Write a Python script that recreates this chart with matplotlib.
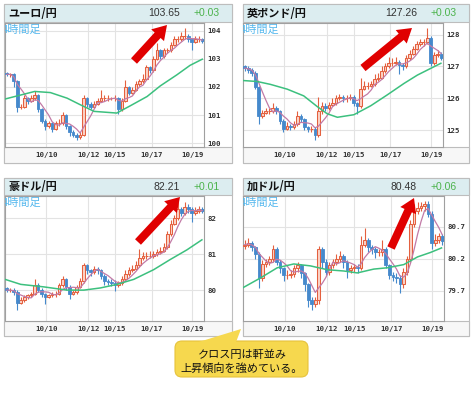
import numpy as np
import pandas as pd
import matplotlib
matplotlib.use('Agg')
import matplotlib.pyplot as plt
from matplotlib.patches import Rectangle, FancyBboxPatch, Polygon

plt.rcParams['font.family'] = ['Noto Sans CJK JP', 'DejaVu Sans']

W, H = 475, 394

titles = ['ユーロ/円', '英ポンド/円', '豪ドル/円', '加ドル/円']
prices = ['103.65', '127.26', '82.21', '80.48']
changes = ['+0.03', '+0.03', '+0.01', '+0.06']
xtick_pos = [11.3, 23.3, 31.0, 41.5, 53.2]
xtick_labels = ['10/10', '10/12', '10/15', '10/17', '10/19']

# 4h candles, open = previous close
eur_open0 = 102.5
eur_close = [102.45, 102.45, 102.2, 101.3, 101.3, 101.6, 101.5, 101.6, 101.7, 101.2,
             100.8, 100.6, 100.7, 100.5, 100.7, 100.7, 101.0, 100.6, 100.4, 100.3,
             100.2, 100.3, 101.6, 101.4, 101.3, 101.4, 101.5, 101.6, 101.6, 101.6,
             101.6, 101.6, 101.2, 101.5, 102.0, 101.8, 101.9, 102.1, 102.2, 102.3,
             102.7, 102.6, 103.0, 103.3, 103.1, 103.3, 103.3, 103.5, 103.7, 103.7,
             103.8, 103.8, 103.7, 103.6, 103.7, 103.7, 103.65]
eur_high = [102.55, 102.5, 102.5, 102.25, 101.4, 101.7, 101.65, 101.7, 101.85, 101.75,
            101.25, 100.85, 100.8, 100.75, 100.8, 100.85, 101.1, 101.05, 100.65, 100.45,
            100.35, 100.4, 101.7, 101.65, 101.45, 101.5, 101.6, 101.9, 101.7, 101.7,
            101.65, 101.7, 101.65, 101.6, 102.25, 102.05, 102.0, 102.2, 102.3, 102.45,
            102.8, 102.75, 103.1, 103.55, 103.35, 103.4, 103.4, 103.6, 103.8, 103.8,
            103.95, 104.1, 103.9, 103.75, 103.8, 103.8, 103.75]
eur_low = [102.4, 102.35, 102.0, 101.1, 101.2, 101.25, 101.4, 101.45, 101.55, 101.1,
           100.7, 100.45, 100.55, 100.4, 100.45, 100.6, 100.65, 100.5, 100.25, 100.2,
           100.1, 100.15, 100.25, 101.3, 101.2, 101.25, 101.35, 101.45, 101.5, 101.5,
           101.55, 101.5, 101.05, 101.15, 101.45, 101.7, 101.75, 101.85, 102.05, 102.15,
           102.25, 102.5, 102.55, 102.95, 103.0, 103.05, 103.2, 103.25, 103.45, 103.6,
           103.65, 103.7, 103.6, 103.3, 103.55, 103.6, 103.55]
eur_ma_x = [-0.5, 8, 12.5, 17.3, 21, 25, 31.5, 35.4, 40.2, 44, 48.7, 52.5, 56]
eur_ma_y = [101.57, 101.84, 101.8, 101.6, 101.37, 101.13, 101.07, 101.33, 101.66, 102.04,
            102.43, 102.77, 102.99]

gbp_open0 = 127.0
gbp_close = [126.95, 126.9, 126.8, 126.35, 125.45, 125.55, 125.6, 125.6, 125.7, 125.6,
             125.3, 125.05, 125.15, 125.1, 125.2, 125.45, 125.35, 125.1, 125.05, 125.05,
             124.85, 125.6, 125.75, 125.7, 125.8, 125.85, 126.0, 126.05, 126.0, 126.0,
             126.05, 125.85, 125.75, 126.3, 126.4, 126.4, 126.45, 126.6, 126.65, 126.85,
             127.0, 127.1, 127.1, 127.15, 127.05, 127.0, 127.25, 127.4, 127.55, 127.7,
             127.75, 127.75, 127.9, 127.1, 127.35, 127.4, 127.26]
gbp_high = [127.05, 127.0, 126.95, 126.85, 126.4, 125.65, 125.7, 125.7, 125.85, 125.75,
            125.65, 125.35, 125.25, 125.2, 125.3, 125.6, 125.5, 125.4, 125.15, 125.15,
            125.1, 126.05, 125.9, 125.85, 125.9, 126.0, 126.1, 126.15, 126.1, 126.1,
            126.15, 126.1, 125.9, 126.65, 126.55, 126.5, 126.55, 126.75, 126.8, 127.0,
            127.1, 127.3, 127.25, 127.3, 127.2, 127.1, 127.35, 127.5, 127.65, 127.8,
            127.85, 127.85, 128.2, 127.95, 127.45, 127.5, 127.45]
gbp_low = [126.85, 126.8, 126.7, 126.3, 125.2, 125.4, 125.5, 125.5, 125.55, 125.5,
           125.2, 124.95, 125.0, 125.0, 125.05, 125.15, 125.25, 125.0, 124.95, 124.95,
           124.7, 124.8, 125.5, 125.6, 125.65, 125.75, 125.8, 125.95, 125.9, 125.9,
           125.95, 125.75, 125.5, 125.7, 126.25, 126.3, 126.35, 126.4, 126.55, 126.6,
           126.8, 126.95, 127.0, 127.05, 126.75, 126.9, 126.95, 127.2, 127.35, 127.5,
           127.65, 127.65, 127.7, 127.0, 127.05, 127.3, 127.2]
gbp_ma_x = [-0.5, 3.5, 7.3, 12.1, 16.8, 20.6, 23.5, 26.4, 31.1, 35.9, 40.6, 45.4, 49.2, 53, 55.9]
gbp_ma_y = [126.56, 126.53, 126.44, 126.29, 126.08, 125.75, 125.52, 125.41, 125.49, 125.77,
            126.11, 126.47, 126.73, 126.94, 127.1]

aud_open0 = 80.05
aud_close = [80.0, 80.0, 79.95, 79.65, 79.72, 79.8, 79.85, 79.9, 80.15, 80.0,
             79.88, 79.82, 79.85, 79.88, 79.9, 80.15, 80.3, 80.1, 79.9, 79.95,
             80.1, 80.25, 80.7, 80.55, 80.5, 80.6, 80.55, 80.4, 80.25, 80.22,
             80.2, 80.15, 80.2, 80.3, 80.45, 80.55, 80.6, 80.7, 80.9, 80.95,
             80.95, 80.95, 81.0, 81.05, 81.1, 81.2, 81.55, 81.85, 82.0, 82.25,
             82.15, 82.3, 82.25, 82.15, 82.2, 82.25, 82.21]
aud_high = [80.1, 80.05, 80.05, 80.0, 79.8, 79.85, 79.9, 79.95, 80.3, 80.2,
            80.05, 79.92, 79.9, 79.95, 79.98, 80.2, 80.4, 80.35, 80.15, 80.0,
            80.15, 80.35, 80.75, 80.72, 80.6, 80.68, 80.65, 80.6, 80.45, 80.3,
            80.3, 80.28, 80.25, 80.38, 80.55, 80.65, 80.7, 80.8, 81.15, 81.05,
            81.05, 81.1, 81.1, 81.15, 81.2, 81.3, 81.65, 81.95, 82.1, 82.5,
            82.3, 82.45, 82.4, 82.3, 82.3, 82.35, 82.3]
aud_low = [79.95, 79.95, 79.85, 79.45, 79.6, 79.68, 79.75, 79.8, 79.85, 79.95,
           79.8, 79.6, 79.78, 79.8, 79.82, 79.85, 80.1, 80.0, 79.75, 79.85,
           79.9, 80.05, 80.2, 80.45, 80.4, 80.45, 80.45, 80.3, 80.15, 80.15,
           80.12, 79.98, 80.1, 80.15, 80.25, 80.4, 80.5, 80.55, 80.65, 80.85,
           80.88, 80.9, 80.9, 80.95, 81.0, 81.05, 81.15, 81.5, 81.8, 81.95,
           82.05, 82.1, 82.15, 81.9, 82.1, 82.15, 82.15]
aud_ma_x = [-0.5, 4, 10.6, 17.3, 22.1, 26.8, 31.6, 36.4, 42.1, 46.8, 51.6, 55.9]
aud_ma_y = [80.3, 80.16, 80.09, 80.0, 80.0, 80.06, 80.16, 80.3, 80.57, 80.85, 81.12, 81.4]

cad_open0 = 80.4
cad_close = [80.42, 80.45, 80.38, 80.28, 79.9, 80.12, 80.15, 80.2, 80.35, 80.15,
             80.05, 79.95, 79.95, 79.97, 80.05, 80.1, 79.98, 79.8, 79.55, 79.5,
             79.55, 80.35, 80.15, 80.0, 80.1, 80.15, 80.2, 80.25, 80.15, 80.02,
             80.05, 80.08, 80.05, 80.42, 80.5, 80.38, 80.35, 80.3, 80.3, 80.35,
             80.1, 79.95, 79.92, 79.9, 79.8, 80.0, 80.2, 80.75, 80.95, 81.0,
             81.02, 81.05, 80.9, 80.45, 80.5, 80.55, 80.48]
cad_high = [80.5, 80.52, 80.48, 80.4, 80.3, 80.18, 80.2, 80.25, 80.42, 80.38,
            80.18, 80.08, 80.02, 80.02, 80.1, 80.15, 80.12, 80.0, 79.82, 79.6,
            79.6, 80.4, 80.38, 80.2, 80.15, 80.2, 80.28, 80.32, 80.28, 80.18,
            80.1, 80.12, 80.12, 80.55, 80.68, 80.52, 80.42, 80.38, 80.36, 80.5,
            80.38, 80.12, 80.0, 79.98, 79.95, 80.05, 80.25, 80.8, 81.05, 81.08,
            81.08, 81.1, 81.1, 80.95, 80.58, 80.6, 80.58]
cad_low = [80.35, 80.38, 80.32, 80.2, 79.75, 79.85, 80.08, 80.1, 80.15, 80.1,
           79.98, 79.85, 79.88, 79.9, 79.92, 80.0, 79.9, 79.7, 79.45, 79.4,
           79.45, 79.5, 80.05, 79.95, 79.95, 80.05, 80.1, 80.15, 80.05, 79.9,
           79.98, 80.0, 79.98, 80.02, 80.38, 80.3, 80.28, 80.22, 80.24, 80.25,
           80.05, 79.88, 79.85, 79.82, 79.67, 79.75, 79.95, 80.15, 80.7, 80.9,
           80.95, 80.95, 80.85, 80.35, 80.4, 80.45, 80.42]
cad_ma_x = [-0.5, 4.4, 9.2, 13.9, 18.6, 23.4, 28.1, 31.9, 36.6, 40.4, 45.1, 49, 52.7, 55.8]
cad_ma_y = [79.75, 79.9, 80.06, 80.12, 80.09, 80.03, 80.01, 79.98, 80.04, 80.06, 80.11,
            80.23, 80.3, 80.37]

eur_yticks = [100, 101, 102, 103, 104]
gbp_yticks = [125, 126, 127, 128]
aud_yticks = [80, 81, 82]
cad_yticks = [79.7, 80.2, 80.7]
ytick_labels = [['100', '101', '102', '103', '104'], ['125', '126', '127', '128'],
                ['80', '81', '82'], ['79.7', '80.2', '80.7']]

series = [
    (eur_open0, eur_close, eur_high, eur_low, eur_ma_x, eur_ma_y, eur_yticks, (99.86, 104.28)),
    (gbp_open0, gbp_close, gbp_high, gbp_low, gbp_ma_x, gbp_ma_y, gbp_yticks, (124.48, 128.36)),
    (aud_open0, aud_close, aud_high, aud_low, aud_ma_x, aud_ma_y, aud_yticks, (79.14, 82.62)),
    (cad_open0, cad_close, cad_high, cad_low, cad_ma_x, cad_ma_y, cad_yticks, (79.23, 81.18)),
]

# pixel layout: outer box, header bottom, plot box
layout = [
    dict(outer=(4, 4, 232, 163), head=22, plot=(5, 23, 204, 147)),
    dict(outer=(243, 4, 469, 163), head=22, plot=(243, 23, 443, 147)),
    dict(outer=(4, 178, 232, 336), head=195, plot=(5, 196, 204, 321)),
    dict(outer=(243, 178, 469, 336), head=195, plot=(243, 196, 444, 321)),
]

# arrows (tail, tip) in pixels
arrows = [((134, 61), (167, 25)), ((363, 68), (412, 28)),
          ((138, 242), (180, 197)), ((391, 248), (414, 198))]

up_face, up_edge = '#fbd3c6', '#e4603f'
dn_color = '#4589cc'
tick_font = dict(fontsize=5.3, family='DejaVu Sans Mono', fontweight='bold', color='#333333')


def px_axes(fig, x0, y0, x1, y1, **kw):
    return fig.add_axes([x0 / W, 1 - y1 / H, (x1 - x0) / W, (y1 - y0) / H], **kw)


fig = plt.figure(figsize=(W / 100, H / 100), dpi=100)
fig.patch.set_facecolor('white')

bg = fig.add_axes([0, 0, 1, 1], zorder=-1)
bg.set_xlim(0, W)
bg.set_ylim(H, 0)
bg.axis('off')

for k, (o0, close, high, low, ma_x, ma_y, yticks, ylim) in enumerate(series):
    L = layout[k]
    x0, y0, x1, y1 = L['outer']
    px0, py0, px1, py1 = L['plot']
    bg.add_patch(Rectangle((x0, y0), x1 - x0, y1 - y0, fc='white', ec='#bdbdbd', lw=0.8))
    bg.add_patch(Rectangle((x0, py1), x1 - x0, y1 - py1, fc='#f7f7f7', ec='#bdbdbd', lw=0.8))
    bg.add_patch(Rectangle((x0, y0), x1 - x0, L['head'] - y0, fc='#dcedf0', ec='#bdbdbd', lw=0.8))
    hy = (y0 + L['head']) / 2
    bg.text(x0 + 4, hy, titles[k], fontsize=8, fontweight='bold', ha='left', va='center', color='#111111')
    bg.text(x1 - 52, hy, prices[k], fontsize=7.5, family='Liberation Sans', ha='right', va='center', color='#333333')
    bg.text(x1 - 12, hy, changes[k], fontsize=7.5, family='Liberation Sans', ha='right', va='center', color='#4cb34c')

    ax = px_axes(fig, *L['plot'])
    c = np.array(close)
    o = np.concatenate([[o0], c[:-1]])
    hi = np.array(high)
    lo = np.array(low)
    x = np.arange(len(c))
    up = c >= o
    ax.vlines(x[up], lo[up], hi[up], color=up_edge, lw=0.8, zorder=2)
    ax.vlines(x[~up], lo[~up], hi[~up], color=dn_color, lw=0.8, zorder=2)
    ax.bar(x[up], (c - o)[up], bottom=o[up], width=0.76, color=up_face, edgecolor=up_edge, lw=0.75, zorder=3)
    ax.bar(x[~up], (o - c)[~up], bottom=c[~up], width=0.76, color=dn_color, edgecolor=dn_color, lw=0.6, zorder=3)
    ma5 = pd.Series(c).rolling(5, min_periods=1).mean()
    ax.plot(x, ma5, color='#c27aa6', lw=0.9, zorder=4)
    ax.plot(ma_x, ma_y, color='#3cc07e', lw=1.1, zorder=4)

    ax.set_xlim(-0.5, len(c) - 0.5)
    ax.set_ylim(*ylim)
    ax.set_xticks(xtick_pos)
    ax.set_xticklabels(xtick_labels, **tick_font)
    ax.yaxis.tick_right()
    ax.set_yticks(yticks)
    ax.set_yticklabels(ytick_labels[k], **tick_font)
    ax.tick_params(length=0)
    ax.tick_params(axis='x', pad=3.5)
    ax.tick_params(axis='y', pad=2.5)
    ax.grid(True, color='#e3e3e3', lw=0.8)
    ax.set_axisbelow(True)
    for s in ax.spines.values():
        s.set_color('#a0a0a0')
        s.set_linewidth(0.8)
    ax.text(-0.015, 0.985, '4時間足', transform=ax.transAxes, fontsize=8, color='#55b8ee',
            ha='left', va='top', clip_on=True, zorder=5)

ov = fig.add_axes([0, 0, 1, 1], zorder=10)
ov.set_xlim(0, W)
ov.set_ylim(H, 0)
ov.axis('off')
ov.patch.set_alpha(0)

for tail, tip in arrows:
    ov.annotate('', xy=tip, xytext=tail,
                arrowprops=dict(arrowstyle='simple,head_width=1.25,head_length=1.0,tail_width=0.58',
                                fc='#e00000', ec='none', shrinkA=0, shrinkB=0, mutation_scale=10))

ov.add_patch(FancyBboxPatch((175, 341), 133, 36, boxstyle='round,pad=0,rounding_size=7',
                            fc='#f6d84e', ec='#e6c23c', lw=0.8))
ov.add_patch(Polygon([(198, 342.2), (236, 342.2), (241, 329)], closed=True, fc='#f6d84e', ec='none'))
ov.text(242, 355, 'クロス円は軒並み', fontsize=8, ha='center', va='center', color='#111111')
ov.text(242, 368, '上昇傾向を強めている。', fontsize=8, ha='center', va='center', color='#111111')

fig.savefig('out.png', dpi=100)
